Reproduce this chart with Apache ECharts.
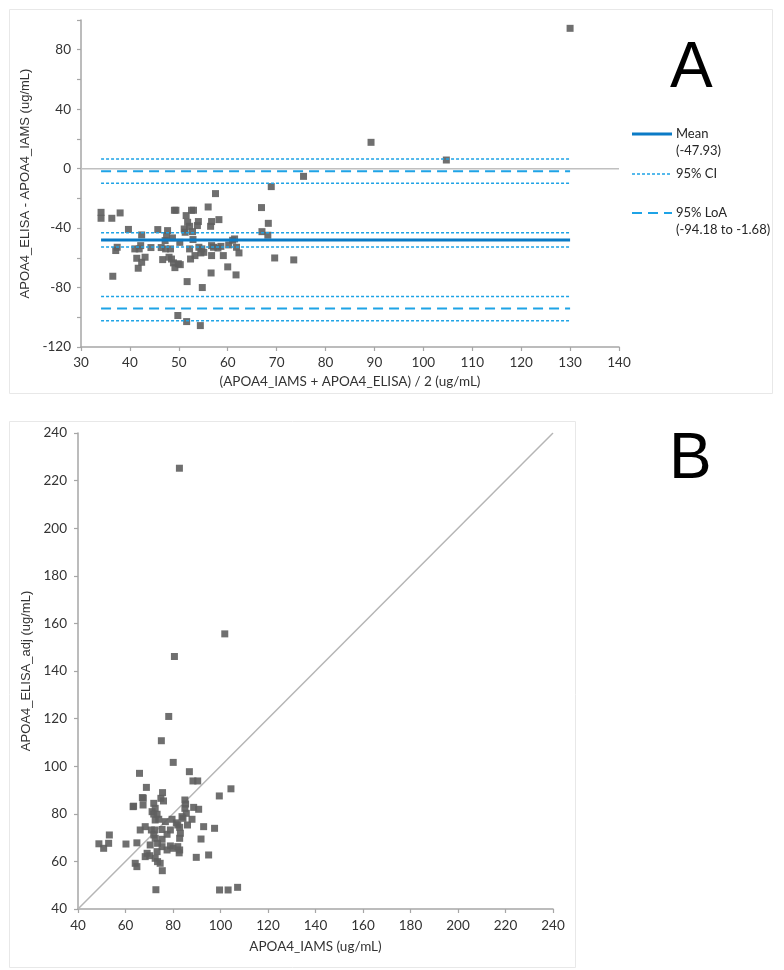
<!DOCTYPE html>
<html>
<head>
<meta charset="utf-8">
<script src="https://cdn.jsdelivr.net/npm/echarts@6/dist/echarts.min.js"></script>
<style>
html,body{margin:0;padding:0;background:#fff;}
#chart{width:784px;height:970px;}
</style>
</head>
<body>
<div id="chart"></div>
<script>
// ---------- Panel A: Bland-Altman ----------
const baAverage = [34.1,34.1,36.3,38.0,39.7,37.1,37.4,36.5,42.4,41.0,41.9,42.2,41.4,43.1,42.4,41.7,44.3,45.7,47.7,46.4,
  47.3,46.7,47.5,47.2,48.0,48.5,48.7,49.1,49.4,48.3,48.9,49.2,49.9,50.2,51.1,51.3,51.5,51.8,52.2,52.2,
  52.4,52.6,53.0,52.8,52.9,53.3,53.8,54.0,54.1,54.7,55.1,56.0,56.5,56.7,58.2,56.7,57.1,56.7,56.6,58.6,
  59.1,60.2,61.0,61.4,60.0,61.8,62.3,61.7,51.7,54.8,49.8,51.6,54.4,57.5,66.9,67.0,68.3,68.2,69.6,68.9,
  73.5,75.5,89.3,104.7,130.0,50.3,58.0,54.5];
const baDifference = [-29.4,-33.4,-33.4,-29.8,-40.9,-55.1,-52.9,-72.4,-44.6,-54.0,-54.0,-51.8,-60.3,-59.6,-63.0,-67.0,-53.1,-41.0,-41.7,-53.1,
  -54.0,-61.2,-45.0,-48.4,-59.6,-60.8,-46.6,-28.0,-28.0,-54.0,-63.4,-66.6,-64.0,-49.6,-40.6,-42.8,-31.6,-36.1,-38.8,-54.0,
  -60.8,-28.0,-28.0,-42.4,-47.7,-58.5,-38.3,-35.6,-52.9,-54.0,-56.3,-25.8,-38.8,-35.6,-34.3,-51.8,-52.9,-58.5,-70.2,-52.3,
  -58.5,-51.3,-48.2,-47.3,-66.1,-52.9,-56.7,-71.5,-76.0,-80.0,-98.8,-102.9,-105.6,-16.8,-26.2,-42.4,-36.8,-44.8,-60.1,-12.1,
  -61.4,-5.2,17.7,5.8,94.4,-64.6,-53.4,-56.7];
const meanDiff = -47.93;
const meanCI = [-43.2, -52.7];
const loa = [-94.18, -1.68];
const upperLoaCI = [6.4, -9.8];
const lowerLoaCI = [-86.1, -102.3];
const aXTicks = {min: 30, max: 140, step: 10};
const aYTicks = {min: -120, max: 100, step: 20, labelStep: 40};

// ---------- Panel B: method comparison ----------
const iams = [82.7,101.8,80.6,78.2,75.1,80.1,65.9,86.9,88.4,90.4,68.8,75.6,74.9,67.1,67.5,63.2,63.4,67.4,76.0,85.0,
  85.3,85.0,88.7,90.8,99.5,104.4,71.9,72.5,71.2,71.9,73.3,74.0,72.5,76.8,79.6,83.8,84.2,85.6,88.0,81.4,
  82.0,82.8,86.1,92.9,97.5,66.2,68.3,70.9,72.3,75.4,78.9,83.1,82.8,91.8,71.9,72.5,75.4,77.5,53.2,52.9,
  48.8,50.8,60.2,64.8,70.4,73.5,75.4,78.9,80.0,82.0,82.8,77.5,69.1,70.2,68.3,73.3,72.5,73.5,74.6,64.1,
  64.8,75.5,72.8,89.8,95.0,82.6,99.6,103.2,107.2];
const elisaAdj = [225.2,155.6,146.1,120.9,110.7,101.6,97.0,97.7,93.8,93.8,91.1,88.9,86.5,86.8,86.6,83.0,83.2,83.7,85.4,85.8,
  84.1,82.3,82.7,81.9,87.5,90.5,84.4,82.3,80.9,79.9,79.8,77.7,77.4,76.7,77.7,78.8,78.1,80.2,77.7,76.2,
  75.3,74.3,75.3,74.6,73.9,73.2,74.6,73.2,73.2,73.4,73.2,71.8,69.7,69.4,71.1,69.7,69.3,71.4,71.1,67.6,
  67.4,65.5,67.3,67.8,66.9,67.6,66.2,66.5,65.5,66.2,64.8,64.8,63.4,62.4,62.0,64.1,61.3,59.9,59.2,59.2,
  57.8,56.1,48.1,61.7,62.7,63.6,48.0,48.0,49.1];
const bTicks = {min: 40, max: 240, step: 20};
const identityRange = [40, 240];

// ---------- styles ----------
const CAL = "Lato,'Open Sans',sans-serif";
const SANS = "'Liberation Sans',Arial,sans-serif";
const axisGray = '#a6a6a6';
const labelColor = '#333333';
const pointColor = '#5f5f5f';
const meanColor = '#0b7bc6';
const lightBlue = '#1ea3e6';
const tickFont = 13.5;
const titleFont = 13.5;
const legendFont = 13;

const xMin = Math.min(...baAverage), xMax = Math.max(...baAverage);
const hline = (v) => [[xMin, v], [xMax, v]];

function lineSeries(name, v, color, width, dash) {
  return {
    name: name, type: 'line', xAxisIndex: 0, yAxisIndex: 0,
    data: hline(v), symbol: 'none', silent: true, z: 5,
    lineStyle: {color: color, width: width, type: dash, cap: 'butt'}
  };
}

function valueAxisCommon(grid) {
  return {
    type: 'value', gridIndex: grid,
    splitLine: {show: false},
    axisLine: {show: true, onZero: false, lineStyle: {color: axisGray, width: 1.5}},
    axisTick: {show: true, inside: false, length: 4, lineStyle: {color: axisGray, width: 1.2}}
  };
}

const option = {
  animation: false,
  backgroundColor: '#ffffff',
  grid: [
    {left: 81, right: 165, top: 20, bottom: 623},
    {left: 78, right: 231, top: 433, bottom: 61}
  ],
  xAxis: [
    Object.assign(valueAxisCommon(0), {
      min: aXTicks.min, max: aXTicks.max, interval: aXTicks.step,
      name: '(APOA4_IAMS + APOA4_ELISA) / 2 (ug/mL)', nameLocation: 'middle', nameGap: 28,
      nameTextStyle: {color: labelColor, fontFamily: CAL, fontSize: titleFont},
      axisLabel: {color: labelColor, fontFamily: CAL, fontSize: tickFont, margin: 9}
    }),
    Object.assign(valueAxisCommon(1), {
      min: bTicks.min, max: bTicks.max, interval: bTicks.step,
      name: 'APOA4_IAMS (ug/mL)', nameLocation: 'middle', nameGap: 31,
      nameTextStyle: {color: labelColor, fontFamily: CAL, fontSize: titleFont},
      axisLabel: {color: labelColor, fontFamily: CAL, fontSize: tickFont, margin: 10}
    })
  ],
  yAxis: [
    Object.assign(valueAxisCommon(0), {
      min: aYTicks.min, max: aYTicks.max, interval: aYTicks.step,
      name: 'APOA4_ELISA - APOA4_IAMS (ug/mL)', nameLocation: 'middle', nameGap: 44,
      nameTextStyle: {color: labelColor, fontFamily: SANS, fontSize: 13},
      axisLabel: {color: labelColor, fontFamily: CAL, fontSize: tickFont, margin: 10,
        formatter: (v) => (v % aYTicks.labelStep === 0 ? String(v) : '')}
    }),
    Object.assign(valueAxisCommon(1), {
      min: bTicks.min, max: bTicks.max, interval: bTicks.step,
      name: 'APOA4_ELISA_adj (ug/mL)', nameLocation: 'middle', nameGap: 39,
      nameTextStyle: {color: labelColor, fontFamily: SANS, fontSize: 13},
      axisLabel: {color: labelColor, fontFamily: CAL, fontSize: tickFont, margin: 11}
    })
  ],
  series: [
    {
      type: 'line', xAxisIndex: 0, yAxisIndex: 0, symbol: 'none', silent: true, z: 1,
      data: [[aXTicks.min, 0], [aXTicks.max, 0]],
      lineStyle: {color: '#c0c0c0', width: 1.5}
    },
    {
      type: 'scatter', xAxisIndex: 0, yAxisIndex: 0, z: 3,
      symbol: 'rect', symbolSize: 7,
      itemStyle: {color: pointColor, opacity: 0.9},
      data: baAverage.map((x, i) => [x, baDifference[i]])
    },
    lineSeries('Mean', meanDiff, meanColor, 3, 'solid'),
    lineSeries('CI1', meanCI[0], lightBlue, 1.5, [3, 2]),
    lineSeries('CI2', meanCI[1], lightBlue, 1.5, [3, 2]),
    lineSeries('LoA1', loa[0], lightBlue, 2, [10, 6]),
    lineSeries('LoA2', loa[1], lightBlue, 2, [10, 6]),
    lineSeries('CI3', upperLoaCI[0], lightBlue, 1.5, [3, 2]),
    lineSeries('CI4', upperLoaCI[1], lightBlue, 1.5, [3, 2]),
    lineSeries('CI5', lowerLoaCI[0], lightBlue, 1.5, [3, 2]),
    lineSeries('CI6', lowerLoaCI[1], lightBlue, 1.5, [3, 2]),
    {
      type: 'line', xAxisIndex: 1, yAxisIndex: 1, symbol: 'none', silent: true, z: 1,
      data: [[identityRange[0], identityRange[0]], [identityRange[1], identityRange[1]]],
      lineStyle: {color: '#b5b5b5', width: 1.5}
    },
    {
      type: 'scatter', xAxisIndex: 1, yAxisIndex: 1, z: 3,
      symbol: 'rect', symbolSize: 7,
      itemStyle: {color: pointColor, opacity: 0.9},
      data: iams.map((x, i) => [x, elisaAdj[i]])
    }
  ],
  graphic: [
    {type: 'rect', shape: {x: 9.5, y: 9.5, width: 763, height: 384}, style: {fill: 'none', stroke: '#e8e8e8', lineWidth: 1}, z: -1},
    {type: 'rect', shape: {x: 9.5, y: 421.5, width: 566, height: 546}, style: {fill: 'none', stroke: '#e8e8e8', lineWidth: 1}, z: -1},
    {type: 'text', left: 670, top: 37, style: {text: 'A', fontFamily: SANS, fontSize: 64, fill: '#000'}},
    {type: 'text', left: 669, top: 428, style: {text: 'B', fontFamily: SANS, fontSize: 64, fill: '#000'}},
    // legend
    {type: 'line', shape: {x1: 632, y1: 134, x2: 672, y2: 134}, style: {stroke: meanColor, lineWidth: 3}},
    {type: 'text', x: 676, y: 134, style: {text: 'Mean', fontFamily: CAL, fontSize: legendFont, fill: '#262626', verticalAlign: 'middle'}},
    {type: 'text', x: 676, y: 151, style: {text: '(' + meanDiff.toFixed(2) + ')', fontFamily: CAL, fontSize: legendFont, fill: '#262626', verticalAlign: 'middle'}},
    {type: 'line', shape: {x1: 632, y1: 174, x2: 672, y2: 174}, style: {stroke: lightBlue, lineWidth: 1.5, lineDash: [3, 2]}},
    {type: 'text', x: 676, y: 174, style: {text: '95% CI', fontFamily: CAL, fontSize: legendFont, fill: '#262626', verticalAlign: 'middle'}},
    {type: 'line', shape: {x1: 632, y1: 213, x2: 672, y2: 213}, style: {stroke: lightBlue, lineWidth: 2, lineDash: [10, 6]}},
    {type: 'text', x: 676, y: 213, style: {text: '95% LoA', fontFamily: CAL, fontSize: legendFont, fill: '#262626', verticalAlign: 'middle'}},
    {type: 'text', x: 676, y: 230, style: {text: '(' + loa[0].toFixed(2) + ' to ' + loa[1].toFixed(2) + ')', fontFamily: CAL, fontSize: legendFont, fill: '#262626', verticalAlign: 'middle'}}
  ]
};

const chart = echarts.init(document.getElementById('chart'), null, {renderer: 'canvas'});
chart.setOption(option);
</script>
</body>
</html>
